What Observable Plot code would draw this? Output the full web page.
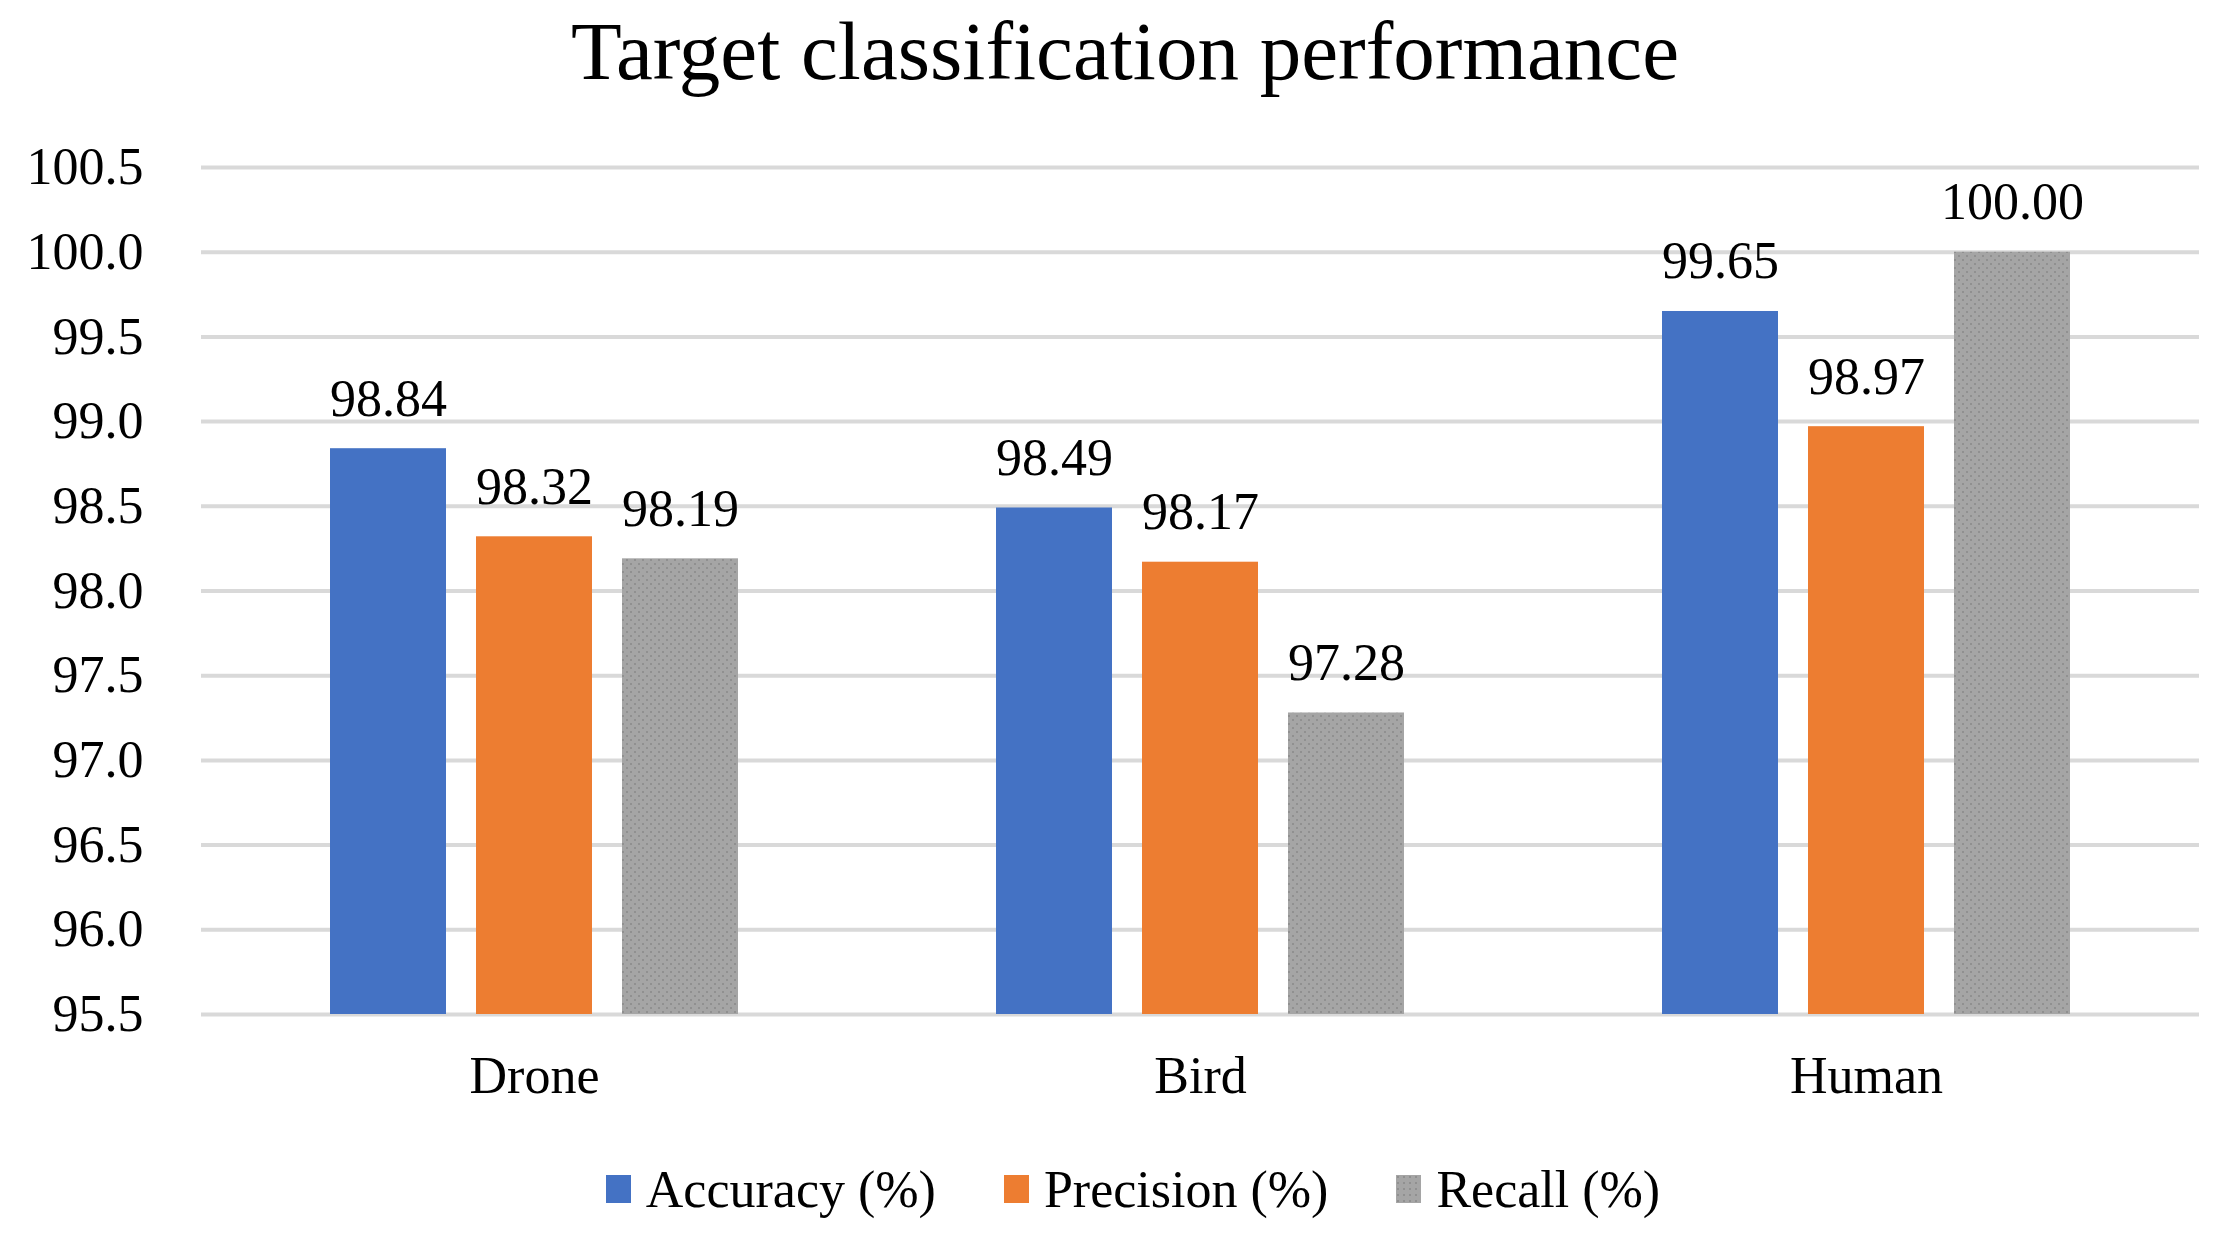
<!DOCTYPE html>
<html>
<head>
<meta charset="utf-8">
<script src="https://cdn.jsdelivr.net/npm/d3@7"></script>
<script src="https://cdn.jsdelivr.net/npm/@observablehq/plot@0.6"></script>
<style>
  html, body { margin: 0; padding: 0; background: #fff; }
  body { width: 2228px; height: 1246px; overflow: hidden; font-family: "Liberation Serif", "Times New Roman", serif; }
  #title { height: 110px; line-height: 102px; text-align: center; font-size: 83px; color: #000; padding-left: 22px; box-sizing: border-box; }
  #chart svg text { font-family: "Liberation Serif", "Times New Roman", serif !important; font-variant: normal !important; }
  #legend { display: flex; justify-content: center; align-items: center; height: 136px; font-size: 52px; color: #000; padding-left: 38px; padding-top: 22px; box-sizing: border-box; }
  .item { display: flex; align-items: center; margin-right: 68px; }
  .item:last-child { margin-right: 0; }
  .sw { width: 25px; height: 28px; margin-right: 15px; }
</style>
</head>
<body>
<div id="title">Target classification performance</div>
<div id="chart"></div>
<div id="legend"></div>
<script>
const categories = ["Drone", "Bird", "Human"];
const seriesNames = ["Accuracy (%)", "Precision (%)", "Recall (%)"];
const accuracy = [98.84, 98.49, 99.65];
const precision = [98.32, 98.17, 98.97];
const recall = [98.19, 97.28, 100.00];
const seriesColors = ["#4472C4", "#ED7D31", "#A5A5A5"];
const yTicks = [95.5, 96.0, 96.5, 97.0, 97.5, 98.0, 98.5, 99.0, 99.5, 100.0, 100.5];

const seriesValues = [accuracy, precision, recall];
const data = [];
categories.forEach((c, i) => {
  seriesNames.forEach((s, j) => {
    data.push({category: c, series: s, value: seriesValues[j][i]});
  });
});

const serif = "Liberation Serif, Times New Roman, serif";
const chart = Plot.plot({
  width: 2228,
  height: 1000,
  marginLeft: 200,
  marginRight: 28,
  marginTop: 57,
  marginBottom: 96,
  style: {fontFamily: serif, fontSize: "52px", color: "#000", background: "#fff"},
  fx: {domain: categories, padding: 0, label: null, axis: "bottom", tickSize: 0, tickPadding: 42},
  x: {domain: seriesNames, paddingInner: 0.204, paddingOuter: 0.87, axis: null},
  y: {domain: [95.5, 100.5], ticks: yTicks, tickFormat: d => d.toFixed(1), label: null, tickSize: 0, tickPadding: 58},
  color: {domain: seriesNames, range: seriesColors},
  marks: [
    Plot.ruleY(yTicks, {stroke: "#d9d9d9", strokeWidth: 4}),
    Plot.barY(data, {fx: "category", x: "series", y1: 95.5, y2: "value", fill: "series"}),
    Plot.text(data, {fx: "category", x: "series", y: "value", text: d => d.value.toFixed(2), lineAnchor: "bottom", dy: -33, fill: "#000", fontSize: 52, fontFamily: serif})
  ]
});
document.getElementById("chart").appendChild(chart);

// dotted texture for the Recall bars
const svg = d3.select(chart);
const defs = svg.insert("defs", ":first-child");
const pat = defs.append("pattern").attr("id", "dots").attr("patternUnits", "userSpaceOnUse").attr("width", 8).attr("height", 8);
pat.append("rect").attr("width", 8).attr("height", 8).attr("fill", "#A5A5A5");
pat.append("rect").attr("x", 1).attr("y", 1).attr("width", 2).attr("height", 2).attr("fill", "#909090");
pat.append("rect").attr("x", 5).attr("y", 5).attr("width", 2).attr("height", 2).attr("fill", "#909090");
svg.selectAll("rect").filter(function() { return (this.getAttribute("fill") || "").toLowerCase() === "#a5a5a5" && !this.closest("pattern"); }).attr("fill", "url(#dots)");

const legend = d3.select("#legend");
seriesNames.forEach((s, i) => {
  const it = legend.append("div").attr("class", "item");
  it.append("div").attr("class", "sw").style("background", i === 2 ? "url('data:image/svg+xml;utf8,<svg xmlns=%22http://www.w3.org/2000/svg%22 width=%226%22 height=%226%22><rect width=%226%22 height=%226%22 fill=%22%23A5A5A5%22/><rect x=%221%22 y=%221%22 width=%222%22 height=%222%22 fill=%22%23909090%22/></svg>')" : seriesColors[i]);
  it.append("span").text(s);
});
</script>
</body>
</html>
